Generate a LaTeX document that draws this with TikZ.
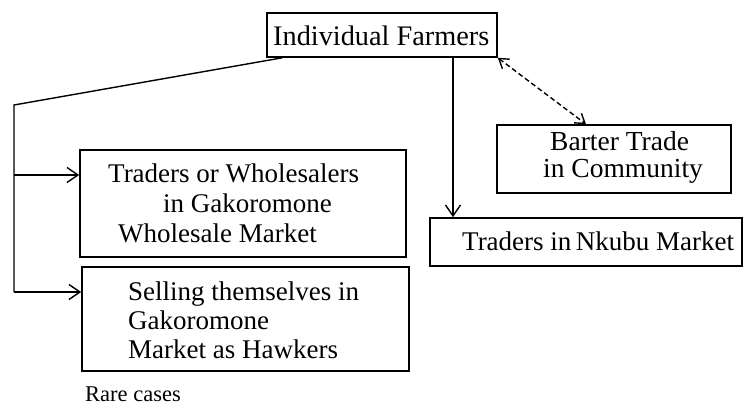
\documentclass[tikz,border=0pt]{standalone}
\usepackage{fontspec}
\setmainfont{Liberation Serif}
\usetikzlibrary{arrows.meta,calc}
\begin{document}
\begin{tikzpicture}[x=1pt,y=-1pt,
  box/.style={draw,line width=1.6pt,inner sep=0pt},
  txt/.style={anchor=base west,inner sep=0pt,font=\fontsize{27}{30}\selectfont},
  small/.style={anchor=base west,inner sep=0pt,font=\fontsize{22.5}{26}\selectfont},
  link/.style={line width=1.4pt},
  arr/.style={link,-{Straight Barb[length=11pt,width=15pt,line width=1.4pt]}},
  duo/.style={line width=1.4pt,dash pattern=on 5pt off 3pt,
    {Straight Barb[length=9pt,width=12pt,line width=1.4pt]}-{Straight Barb[length=9pt,width=12pt,line width=1.4pt]}}]
\useasboundingbox (0,0) rectangle (744,408);

% boxes
\node[box,minimum width=230pt,minimum height=44pt] (F) at (382,35) {};
\node[box,minimum width=326pt,minimum height=107pt] (T) at (243,203.5) {};
\node[box,minimum width=327pt,minimum height=104pt] (S) at (245.5,319) {};
\node[box,minimum width=312pt,minimum height=48pt] (N) at (586,242) {};
\node[box,minimum width=234pt,minimum height=68pt] (B) at (614,159) {};

% box texts
\node[txt,font=\fontsize{28.3}{30}\selectfont] (Ft) at (273,45) {Individual Farmers};
\node[txt] (T1) at (108,182) {Traders or Wholesalers};
\node[txt] (T2) at (163,212) {in Gakoromone};
\node[txt] (T3) at (118,242) {Wholesale Market};
\node[txt] (S1) at (128,300) {Selling themselves in};
\node[txt] (S2) at (128,329) {Gakoromone};
\node[txt] (S3) at (128,358) {Market as Hawkers};
\node[txt,font=\fontsize{27.5}{30}\selectfont] (B1) at (550,150) {Barter Trade};
\node[txt,font=\fontsize{27.5}{30}\selectfont] (B2) at (543,177) {in Community};
\node[txt] (Nt) at (462,250) {Traders in\,Nkubu Market};
\node[small] (rc) at (85,401) {Rare cases};

% connectors
\coordinate (bend) at (14,105);
\coordinate (jT) at (14,175);
\coordinate (jS) at (14,292);
\coordinate (nx) at (453,0);
\draw[link] ([xshift=16pt]F.south west) -- (bend) -- (jS);
\draw[arr] (jT) -- (T.west |- jT);
\draw[arr] (jS) -- (S.west |- jS);
\draw[arr] (F.south -| nx) -- (N.north -| nx);
\draw[duo] (F.south east) -- ([xshift=-28pt]B.north);
\end{tikzpicture}
\end{document}
